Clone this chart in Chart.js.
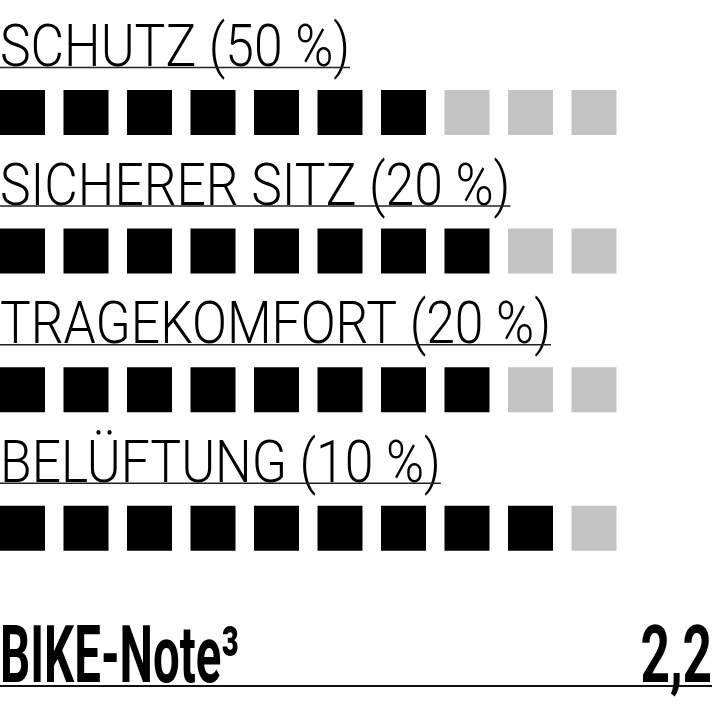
<!DOCTYPE html>
<html>
<head>
<meta charset="utf-8">
<script src="https://cdn.jsdelivr.net/npm/chart.js@4/dist/chart.umd.min.js"></script>
<style>
  html, body { margin: 0; padding: 0; background: #fff; }
  #wrap { width: 712px; height: 707px; position: relative; }
</style>
</head>
<body>
<div id="wrap"><canvas id="c"></canvas></div>
<script>
// ---- data ----
const categories = ['SCHUTZ (50 %)', 'SICHERER SITZ (20 %)', 'TRAGEKOMFORT (20 %)', 'BELÜFTUNG (10 %)'];
const scores = [7, 8, 8, 9];
const maxScore = 10;
const noteLabel = 'BIKE-Note³';
const noteValue = '2,2';

// ---- build points from the data ----
const filledPts = [];
const emptyPts = [];
categories.forEach((c, i) => {
  for (let k = 1; k <= maxScore; k++) {
    (k <= scores[i] ? filledPts : emptyPts).push({ x: k, y: i });
  }
});

const LABEL_SX = 0.86;
const NOTE_SX = 0.6;
const VALUE_SX = 0.65;

const textPlugin = {
  id: 'texts',
  afterDatasetsDraw(chart) {
    const ctx = chart.ctx;
    const ys = chart.scales.y;
    const area = chart.chartArea;
    ctx.save();
    ctx.fillStyle = '#000';
    ctx.textBaseline = 'alphabetic';
    // category labels
    ctx.font = '300 60px Roboto';
    categories.forEach((c, i) => {
      const base = ys.getPixelForValue(i) - 46.5;
      const w = ctx.measureText(c).width * LABEL_SX;
      ctx.save();
      ctx.translate(area.left, base);
      ctx.scale(LABEL_SX, 1);
      ctx.textAlign = 'left';
      ctx.fillText(c, 0, 0);
      ctx.restore();
      ctx.strokeStyle = '#222';
      ctx.lineWidth = 1.5;
      ctx.beginPath();
      ctx.moveTo(area.left, base + 1.5);
      ctx.lineTo(area.left + w, base + 1.5);
      ctx.stroke();
    });
    // note line
    const nb = area.bottom - 25;
    ctx.font = 'bold 79px Roboto';
    ctx.save();
    ctx.translate(area.left, nb);
    ctx.scale(NOTE_SX, 1);
    ctx.textAlign = 'left';
    ctx.fillText(noteLabel, 0, 0);
    ctx.restore();
    ctx.save();
    ctx.translate(area.right, nb);
    ctx.scale(VALUE_SX, 1);
    ctx.textAlign = 'right';
    ctx.fillText(noteValue, 0, 0);
    ctx.restore();
    ctx.strokeStyle = '#111';
    ctx.lineWidth = 2;
    ctx.beginPath();
    ctx.moveTo(area.left, nb + 4);
    ctx.lineTo(area.right, nb + 4);
    ctx.stroke();
    ctx.restore();
  }
};

new Chart(document.getElementById('c'), {
  type: 'scatter',
  data: {
    datasets: [
      { data: filledPts, backgroundColor: '#000000', borderWidth: 0 },
      { data: emptyPts, backgroundColor: '#c4c4c4', borderWidth: 0 }
    ]
  },
  options: {
    responsive: true,
    maintainAspectRatio: false,
    animation: false,
    layout: { padding: 0, autoPadding: false },
    elements: { point: { pointStyle: 'rect', radius: 31.82, hoverRadius: 31.82, borderWidth: 0 } },
    plugins: { legend: { display: false }, tooltip: { enabled: false } },
    scales: {
      x: { type: 'linear', display: false, min: 1 - 22.5 / 63.5, max: 1 + (712 - 22.5) / 63.5 },
      y: { type: 'linear', display: false, reverse: true, min: -112.5 / 138.6, max: (707 - 112.5) / 138.6 }
    }
  },
  plugins: [textPlugin]
});
</script>
</body>
</html>
